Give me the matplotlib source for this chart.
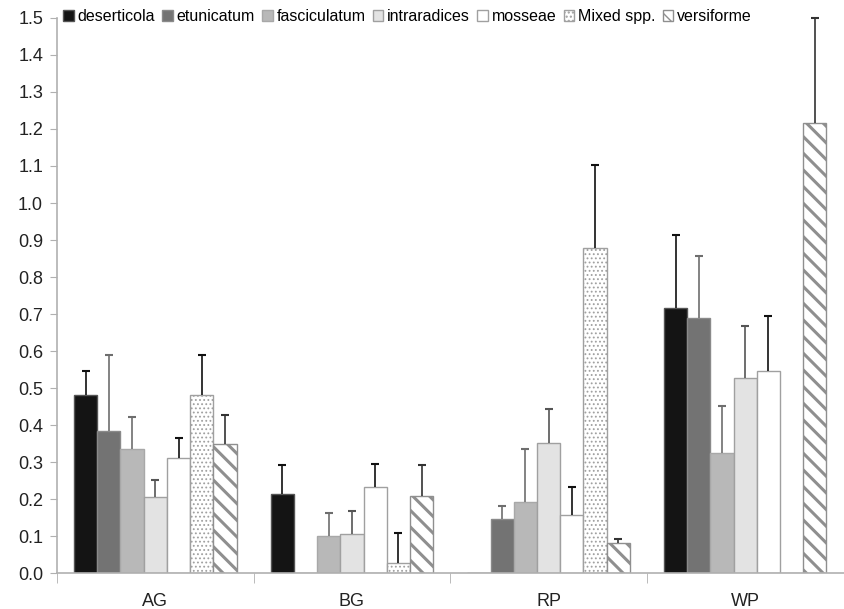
import numpy as np
import matplotlib.pyplot as plt
from matplotlib.patches import Patch

plt.rcParams['font.family'] = ['Liberation Sans', 'DejaVu Sans']

# Daten
sites = ['AG', 'BG', 'RP', 'WP']
species = ['deserticola', 'etunicatum', 'fasciculatum', 'intraradices',
           'mosseae', 'Mixed spp.', 'versiforme']

deserticola = [0.481, 0.215, 0.0, 0.715]
etunicatum = [0.384, 0.0, 0.145, 0.689]
fasciculatum = [0.335, 0.099, 0.191, 0.325]
intraradices = [0.205, 0.105, 0.352, 0.526]
mosseae = [0.310, 0.232, 0.157, 0.546]
mixed = [0.481, 0.026, 0.878, 0.0]
versiforme = [0.349, 0.208, 0.080, 1.215]

err_deserticola = [0.064, 0.078, 0.0, 0.199]
err_etunicatum = [0.206, 0.0, 0.036, 0.168]
err_fasciculatum = [0.088, 0.062, 0.144, 0.127]
err_intraradices = [0.046, 0.064, 0.090, 0.141]
err_mosseae = [0.056, 0.064, 0.076, 0.149]
err_mixed = [0.109, 0.081, 0.224, 0.0]
err_versiforme = [0.078, 0.084, 0.011, 0.285]

values = [deserticola, etunicatum, fasciculatum, intraradices, mosseae, mixed, versiforme]
errors = [err_deserticola, err_etunicatum, err_fasciculatum, err_intraradices,
          err_mosseae, err_mixed, err_versiforme]

# Stil je Serie
faces = ['#141414', '#737373', '#b8b8b8', '#e3e3e3', 'white', 'white', 'white']
edges = ['#555555', '#8a8a8a', '#a8a8a8', '#a0a0a0', '#a0a0a0', '#a0a0a0', '#8f8f8f']
hatches = [None, None, None, None, None, '....', '\\\\']
hatch_lw = [1.0, 1.0, 1.0, 1.0, 1.0, 0.8, 2.2]
ecolors = ['#111111', '#6e6e6e', '#6e6e6e', '#555555', '#111111', '#111111', '#333333']

fig = plt.figure(figsize=(8.44, 6.09), dpi=100)
ax = fig.add_axes([0.0675, 0.059, 0.932, 0.9115])

x = np.arange(len(sites)) + 0.5
width = 0.118

for i, (vals, errs) in enumerate(zip(values, errors)):
    pos = x + (i - 3) * width
    with plt.rc_context({'hatch.linewidth': hatch_lw[i]}):
        ax.bar(pos, vals, width=width, color=faces[i], edgecolor=edges[i],
               hatch=hatches[i], linewidth=1.0, zorder=2)
    vals = np.array(vals)
    errs = np.array(errs)
    m = errs > 0
    _, caps, _ = ax.errorbar(pos[m], vals[m], yerr=[np.zeros(m.sum()), errs[m]],
                             fmt='none', ecolor=ecolors[i], elinewidth=1.2,
                             capsize=3, capthick=1.5, zorder=3, clip_on=False)
    # nur obere Kappe
    caps[0].set_visible(False)

ax.set_xlim(0, 4)
ax.set_ylim(0, 1.5)
ax.set_yticks(np.arange(0, 1.51, 0.1))
ax.set_yticklabels([f'{v:.1f}' for v in np.arange(0, 1.51, 0.1)])
ax.set_xticks(x)
ax.set_xticklabels(sites)
ax.set_xticks([0, 1, 2, 3, 4], minor=True)
ax.tick_params(axis='x', which='major', length=0, pad=14, labelsize=13, colors='#222222')
ax.tick_params(axis='x', which='minor', length=7, color='#b0b0b0', direction='out')
ax.tick_params(axis='y', length=5, color='#b0b0b0', labelsize=13, labelcolor='#222222', pad=5)

for s in ['top', 'right']:
    ax.spines[s].set_visible(False)
for s in ['left', 'bottom']:
    ax.spines[s].set_color('#b0b0b0')
    ax.spines[s].set_linewidth(1.2)

handles = []
for i in range(len(species)):
    with plt.rc_context({'hatch.linewidth': min(hatch_lw[i], 1.2)}):
        handles.append(Patch(facecolor=faces[i], edgecolor=edges[i],
                             hatch=hatches[i], label=species[i]))
ax.legend(handles=handles, loc='upper left', bbox_to_anchor=(0.0, 1.028), ncol=7,
          frameon=False, fontsize=11.5, handlelength=0.65, handleheight=0.65,
          handletextpad=0.25, columnspacing=0.45, borderaxespad=0)

fig.savefig('out.png', dpi=100)
